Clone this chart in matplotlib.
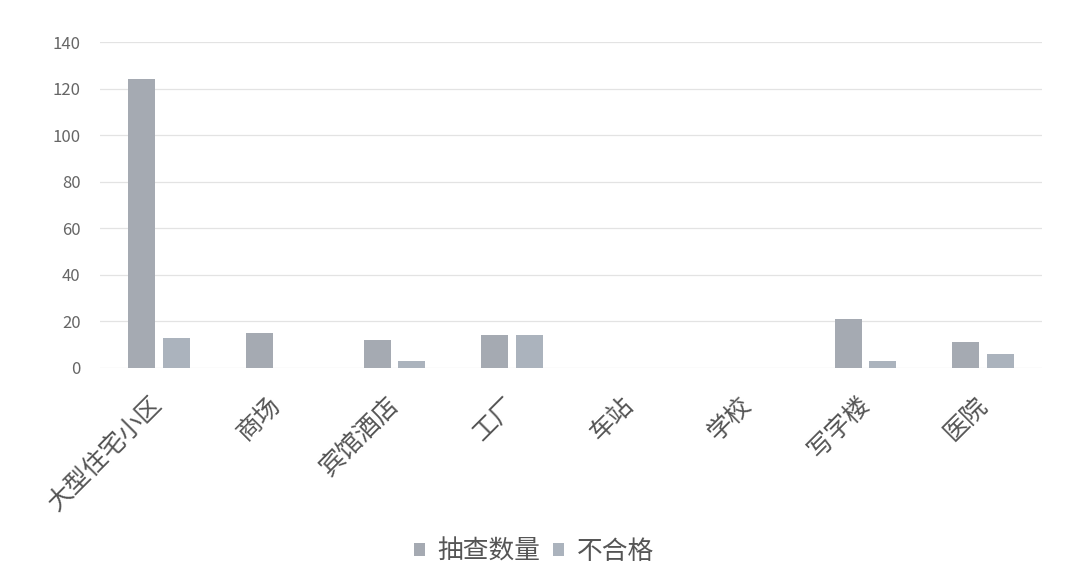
import matplotlib
matplotlib.use("Agg")
import matplotlib.pyplot as plt
import matplotlib.transforms as mtransforms
import numpy as np

plt.rcParams['font.family'] = ['Noto Sans CJK SC', 'DejaVu Sans']

categories = ['大型住宅小区', '商场', '宾馆酒店', '工厂', '车站', '学校', '写字楼', '医院']
series_names = ['抽查数量', '不合格']
sampled = [124, 15, 12, 14, 0, 0, 21, 11]
failed = [13, 0, 3, 14, 0, 0, 3, 6]
yticks = [0, 20, 40, 60, 80, 100, 120, 140]

colors = ['#a5aab2', '#abb3bd']
text_color = '#555555'

fig = plt.figure(figsize=(10.68, 5.88), dpi=100)
ax = fig.add_axes([100/1068, 1-368/588, 942/1068, 326/588])

x = np.arange(len(categories))
w = 0.23
off = 0.147
ax.bar(x - off, sampled, width=w, color=colors[0], label=series_names[0], zorder=3)
ax.bar(x + off, failed, width=w, color=colors[1], label=series_names[1], zorder=3)

ax.set_xlim(-0.5, len(categories) - 0.5)
ax.set_ylim(0, 140)
ax.set_yticks(yticks)
ax.set_yticklabels([str(v) for v in yticks], fontsize=12, color='#666666')
ax.tick_params(axis='y', length=0, pad=14)
ax.tick_params(axis='x', length=0, pad=0)
ax.grid(axis='y', color='#e3e3e3', linewidth=0.9, zorder=0)
for s in ax.spines.values():
    s.set_visible(False)

ax.set_xticks(x)
labels = ax.set_xticklabels(categories, rotation=45, ha='right', va='center',
                            rotation_mode='anchor', fontsize=18, color=text_color)
offset = mtransforms.ScaledTranslation(0/100, -33/100, fig.dpi_scale_trans)
for lab in labels:
    lab.set_transform(lab.get_transform() + offset)

fig.legend(loc='center', bbox_to_anchor=(534/1068, 1-552/588), ncol=2, frameon=False,
           fontsize=18.5, handlelength=0.4, handleheight=0.4, handletextpad=0.5,
           columnspacing=0.5, labelcolor=text_color)

fig.savefig('out.png', dpi=100, facecolor='white')
